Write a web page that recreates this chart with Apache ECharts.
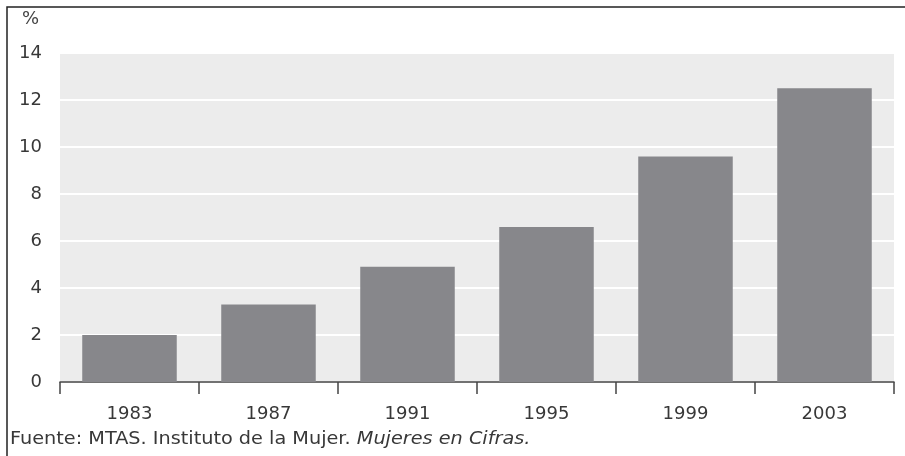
<!DOCTYPE html>
<html lang="es">
  <head>
    <meta charset="UTF-8" />
    <title>Mujeres en Cifras</title>
    <script src="https://cdn.jsdelivr.net/npm/echarts@6/dist/echarts.min.js"></script>
    <style>
      body { margin: 0; background: #fff; }
      #chart { width: 905px; height: 456px; }
    </style>
  </head>
  <body>
    <div id="chart"></div>
    <script type="text/javascript">
      // data
      const years = ["1983", "1987", "1991", "1995", "1999", "2003"];
      const values = [2.0, 3.3, 4.9, 6.6, 9.6, 12.5];
      const yTicks = [0, 2, 4, 6, 8, 10, 12, 14];

      const font = "DejaVu Sans";
      const chart = echarts.init(document.getElementById("chart"));

      let options = {
        animation: false,
        textStyle: { fontFamily: font },
        title: {
          text: "%",
          left: 17,
          top: 5,
          textStyle: { fontFamily: font, fontSize: 18, fontWeight: "normal", color: "#444" },
        },
        grid: {
          left: 60,
          right: 11,
          top: 53,
          bottom: 74,
          show: true,
          backgroundColor: "#ececec",
          borderWidth: 0,
        },
        xAxis: {
          type: "category",
          data: years,
          axisLine: { lineStyle: { color: "#444", width: 1.5 } },
          axisTick: { show: true, length: 12, lineStyle: { color: "#444", width: 1.5 } },
          axisLabel: { fontSize: 18, color: "#383838", margin: 23 },
        },
        yAxis: {
          type: "value",
          min: yTicks[0],
          max: yTicks[yTicks.length - 1],
          interval: 2,
          axisLine: { show: false },
          axisTick: { show: false },
          axisLabel: { fontSize: 18, color: "#383838", margin: 18 },
          splitLine: { lineStyle: { color: "#ffffff", width: 2 } },
        },
        series: [
          {
            type: "bar",
            data: values,
            barCategoryGap: "32%",
            itemStyle: { color: "#87878b" },
          },
        ],
        graphic: [
          {
            type: "polyline",
            shape: { points: [[7, 456], [7, 7], [905, 7]] },
            style: { stroke: "#222", lineWidth: 1.5, fill: null },
          },
          {
            type: "text",
            left: 10,
            top: 430,
            scaleX: 1.07,
            style: {
              rich: {
                n: { fontFamily: font, fontSize: 18, fill: "#383838" },
                i: { fontFamily: font, fontSize: 18, fill: "#383838", fontStyle: "italic" },
              },
              text: "{n|Fuente: MTAS. Instituto de la Mujer. }{i|Mujeres en Cifras.}",
            },
          },
        ],
      };

      chart.setOption(options);
    </script>
  </body>
</html>
